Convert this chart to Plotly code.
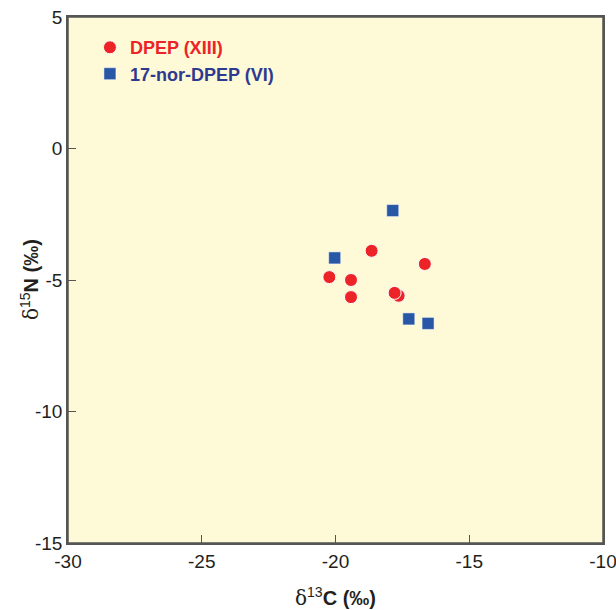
import plotly.graph_objects as go

# delta values
dpep_c = [-18.65, -16.66, -20.23, -19.42, -19.42, -17.64, -17.79]
dpep_n = [-3.89, -4.39, -4.89, -5.0, -5.65, -5.60, -5.49]
nor_c = [-17.86, -20.03, -17.26, -16.54]
nor_n = [-2.36, -4.16, -6.48, -6.65]

x_ticks = [-30, -25, -20, -15, -10]
y_ticks = [5, 0, -5, -10, -15]

red = '#ec2327'
blue = '#2757a5'
navy = '#2e3a8f'
ink = '#231f20'
frame = '#555555'
font = 'Liberation Sans, Arial, sans-serif'
delta = "<span style='font-family:DejaVu Serif, serif;font-weight:normal'>δ</span>"

fig = go.Figure()
fig.add_trace(go.Scatter(x=dpep_c, y=dpep_n, mode='markers',
                         name="<span style='color:%s'><b>DPEP (XIII)</b></span>" % red,
                         marker=dict(symbol='circle', size=13, color=red,
                                     line=dict(color='white', width=1))))
fig.add_trace(go.Scatter(x=nor_c, y=nor_n, mode='markers',
                         name="<span style='color:%s'><b>17-nor-DPEP (VI)</b></span>" % navy,
                         marker=dict(symbol='square', size=12, color=blue,
                                     line=dict(color='white', width=0.5))))

axis_common = dict(showgrid=False, zeroline=False, showline=True, mirror=True,
                   automargin=False,
                   linecolor=frame, linewidth=1.5, ticks='inside', ticklen=8,
                   tickcolor=frame, tickwidth=1.2,
                   tickfont=dict(family=font, size=19, color=ink))

fig.update_layout(
    width=616, height=610,
    margin=dict(l=68, r=13, t=17, b=67),
    paper_bgcolor='white',
    plot_bgcolor='#fef9d6',
    xaxis=dict(range=[-30, -10], tickvals=x_ticks, ticktext=[str(v) for v in x_ticks],
               ticklabeloverflow='allow', **axis_common),
    yaxis=dict(range=[-15, 5], tickvals=y_ticks, ticktext=[str(v) for v in y_ticks],
               **axis_common),
    legend=dict(x=0.041, y=0.977, xanchor='left', yanchor='top',
                bgcolor='rgba(0,0,0,0)', tracegroupgap=0,
                font=dict(family=font, size=18), itemwidth=30),
    showlegend=True,
)

# plot frame drawn explicitly as well
fig.add_shape(type='rect', xref='paper', yref='paper', x0=0, y0=0, x1=1, y1=1,
              line=dict(color=frame, width=1.5), layer='above')

# axis titles as annotations so they sit where the original has them
fig.add_annotation(text=delta + "<sup>13</sup><b>C (‰)</b>", xref='paper', yref='paper',
                   x=0.5, y=-0.1027, xanchor='center', yanchor='middle', showarrow=False,
                   font=dict(family=font, size=20, color=ink))
fig.add_annotation(text=delta + "<sup>15</sup><b>N (‰)</b>", xref='paper', yref='paper',
                   x=-0.071, y=0.5, xanchor='center', yanchor='middle', showarrow=False,
                   textangle=-90, font=dict(family=font, size=20, color=ink))

# page body has an 8px default margin; drop it so the figure sits at 0,0
fig.write_html("out.html", config={'displayModeBar': False},
               post_script="document.body.style.margin='0';")
